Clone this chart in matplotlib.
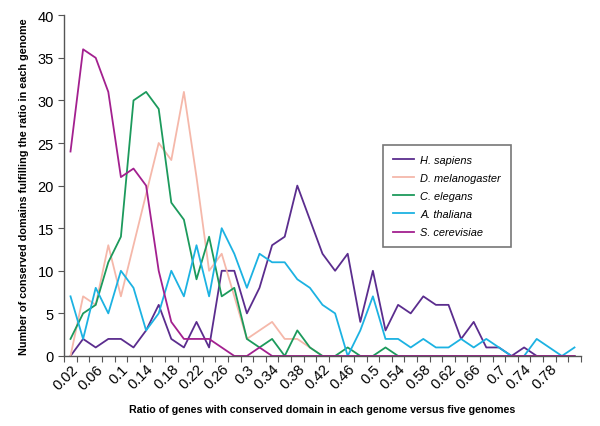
import numpy as np
import matplotlib
matplotlib.use("Agg")
import matplotlib.pyplot as plt

plt.rcParams['font.family'] = ['Liberation Sans', 'DejaVu Sans']

# ratio categories 0.02 .. 0.82 (last one has no label in the original)
ratios = ["%g" % (0.02 * k) for k in range(1, 42)]
ratios[-1] = ""

h_sapiens = [0, 2, 1, 2, 2, 1, 3, 6, 2, 1, 4, 1, 10, 10, 5, 8, 13, 14, 20, 16,
             12, 10, 12, 4, 10, 3, 6, 5, 7, 6, 6, 2, 4, 1, 1, 0, 1, 0, 0, 0, 0]
d_melanogaster = [0, 7, 6, 13, 7, 13, 19, 25, 23, 31, 21, 10, 12, 7, 2, 3, 4, 2, 2, 1,
                  0, 0, 0, 0, 0, 0, 0, 0, 0, 0, 0, 0, 0, 0, 0, 0, 0, 0, 0, 0, 0]
c_elegans = [2, 5, 6, 11, 14, 30, 31, 29, 18, 16, 9, 14, 7, 8, 2, 1, 2, 0, 3, 1,
             0, 0, 1, 0, 0, 1, 0, 0, 0, 0, 0, 0, 0, 0, 0, 0, 0, 0, 0, 0, 0]
a_thaliana = [7, 2, 8, 5, 10, 8, 3, 5, 10, 7, 13, 7, 15, 12, 8, 12, 11, 11, 9, 8,
              6, 5, 0, 3, 7, 2, 2, 1, 2, 1, 1, 2, 1, 2, 1, 0, 0, 2, 1, 0, 1]
s_cerevisiae = [24, 36, 35, 31, 21, 22, 20, 10, 4, 2, 2, 2, 1, 0, 0, 1, 0, 0, 0, 0,
                0, 0, 0, 0, 0, 0, 0, 0, 0, 0, 0, 0, 0, 0, 0, 0, 0, 0, 0, 0, 0]

series = [
    ("H. sapiens", h_sapiens, "#5b2d8e"),
    ("D. melanogaster", d_melanogaster, "#f5b8aa"),
    ("C. elegans", c_elegans, "#1c9a5c"),
    ("A. thaliana", a_thaliana, "#1cb2e2"),
    ("S. cerevisiae", s_cerevisiae, "#a3208f"),
]

fig = plt.figure(figsize=(6, 4.27), dpi=100)
ax = fig.add_axes([0.107, 0.164, 0.861, 0.798])

x = np.arange(len(ratios))
for name, vals, col in series:
    ax.plot(x, vals, color=col, lw=1.3, label=name)

ax.set_xlim(-0.5, len(ratios) - 0.5)
ax.set_ylim(0, 40)
ax.set_yticks(range(0, 41, 5))
ax.tick_params(axis='y', labelsize=10.5, length=4, color='#555555', direction='out')

# ticks between categories, labels on every other category
ax.set_xticks(np.arange(-0.5, len(ratios)), minor=False)
ax.set_xticklabels([])
ax.set_xticks(x[::2], minor=True)
ax.set_xticklabels([ratios[i] for i in x[::2]], minor=True, rotation=45,
                   ha='right', va='top', rotation_mode='anchor', fontsize=10.5)
ax.tick_params(axis='x', which='major', length=4, color='#555555', direction='out')
ax.tick_params(axis='x', which='minor', length=0, pad=4)

for s in ['top', 'right']:
    ax.spines[s].set_visible(False)
for s in ['left', 'bottom']:
    ax.spines[s].set_color('#555555')
    ax.spines[s].set_linewidth(1.0)

ax.set_xlabel("Ratio of genes with conserved domain in each genome versus five genomes",
              fontsize=7.7, fontweight='bold', labelpad=9)
ax.set_ylabel("Number of conserved domains fulfilling the ratio in each genome",
              fontsize=7.8, fontweight='bold', labelpad=6)

leg = ax.legend(loc='upper left', bbox_to_anchor=(0.617, 0.619), fancybox=False,
                framealpha=1, edgecolor='#777777', prop={'style': 'italic', 'size': 7.9},
                handlelength=1.9, borderpad=0.9, labelspacing=0.74, borderaxespad=0,
                handletextpad=0.6)
leg.get_frame().set_linewidth(1.2)

fig.savefig("out.png", dpi=100)
